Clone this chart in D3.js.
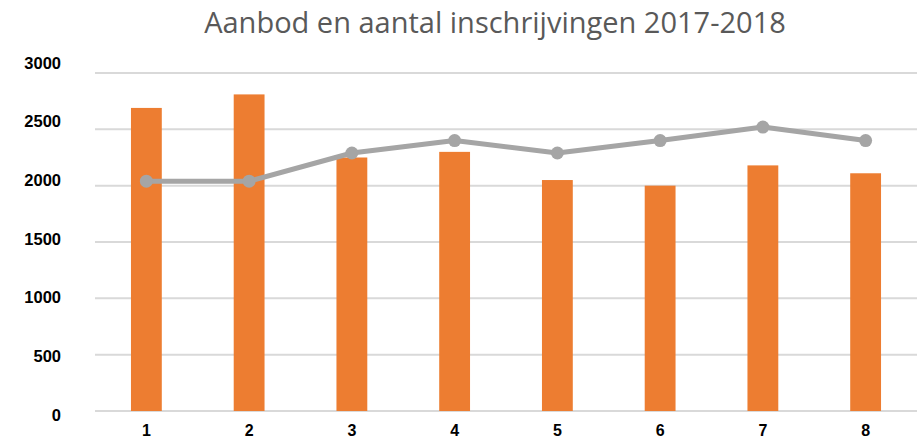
<!DOCTYPE html>
<html>
<head>
<meta charset="utf-8">
<script src="https://cdn.jsdelivr.net/npm/d3@7"></script>
<style>
  body { margin: 0; background: #fff; }
  svg { display: block; }
</style>
</head>
<body>
<svg id="chart" width="919" height="439"></svg>
<script>
var title = "Aanbod en aantal inschrijvingen 2017-2018";
var categories = ["1", "2", "3", "4", "5", "6", "7", "8"];
var barValues = [2690, 2810, 2250, 2300, 2050, 2000, 2180, 2110];
var lineValues = [2040, 2040, 2290, 2400, 2290, 2400, 2520, 2400];
var yTicks = [0, 500, 1000, 1500, 2000, 2500, 3000];

var svg = d3.select("#chart"),
  plotLeft = 95,
  plotRight = 917,
  plotTop = 73,
  plotBottom = 411;

var x = d3.scaleBand()
  .domain(categories)
  .range([plotLeft, plotRight])
  .paddingInner(0.7)
  .paddingOuter(0.35);

var y = d3.scaleLinear()
  .domain([0, 3000])
  .range([plotBottom, plotTop]);

// tick labels sit on a slightly wider spacing than the gridlines in the original
var yLabel = d3.scaleLinear()
  .domain([0, 3000])
  .range([plotBottom + 4, plotTop - 10]);

svg.append("text")
  .attr("x", 495)
  .attr("y", 33)
  .attr("text-anchor", "middle")
  .attr("font-family", "'Open Sans', sans-serif")
  .attr("font-size", 29)
  .attr("fill", "#595959")
  .text(title);

// gridlines
svg.append("g")
  .selectAll("line")
  .data(yTicks)
  .enter()
  .append("line")
    .attr("x1", plotLeft)
    .attr("x2", plotRight)
    .attr("y1", function(d) { return y(d); })
    .attr("y2", function(d) { return y(d); })
    .attr("stroke", "#d9d9d9")
    .attr("stroke-width", 2);

var yAxis = svg.append("g")
  .attr("transform", "translate(61,0)")
  .call(d3.axisLeft(yLabel).tickValues(yTicks).tickFormat(d3.format("d")).tickSize(0).tickPadding(0));
yAxis.select(".domain").remove();
yAxis.selectAll("text")
  .attr("font-family", "'Liberation Sans', Arial, sans-serif")
  .attr("font-weight", "bold")
  .attr("font-size", 16.5)
  .attr("fill", "#000");

// bars
svg.append("g")
  .selectAll("rect")
  .data(barValues)
  .enter()
  .append("rect")
    .attr("x", function(d, i) { return x(categories[i]); })
    .attr("width", x.bandwidth())
    .attr("y", function(d) { return y(d); })
    .attr("height", function(d) { return plotBottom - y(d); })
    .attr("fill", "#ed7d31");

var cx = function(d, i) { return x(categories[i]) + x.bandwidth() / 2; };

svg.append("path")
  .datum(lineValues)
  .attr("d", d3.line().x(cx).y(function(d) { return y(d); }))
  .attr("fill", "none")
  .attr("stroke", "#a5a5a5")
  .attr("stroke-width", 5)
  .attr("stroke-linejoin", "round");

svg.append("g")
  .selectAll("circle")
  .data(lineValues)
  .enter()
  .append("circle")
    .attr("cx", cx)
    .attr("cy", function(d) { return y(d); })
    .attr("r", 6.5)
    .attr("fill", "#a5a5a5");

var xAxis = svg.append("g")
  .attr("transform", "translate(0," + plotBottom + ")")
  .call(d3.axisBottom(x).tickSize(0).tickPadding(14));
xAxis.select(".domain").remove();
xAxis.selectAll("text")
  .attr("font-family", "'Liberation Sans', Arial, sans-serif")
  .attr("font-weight", "bold")
  .attr("font-size", 16)
  .attr("fill", "#000");
</script>
</body>
</html>
